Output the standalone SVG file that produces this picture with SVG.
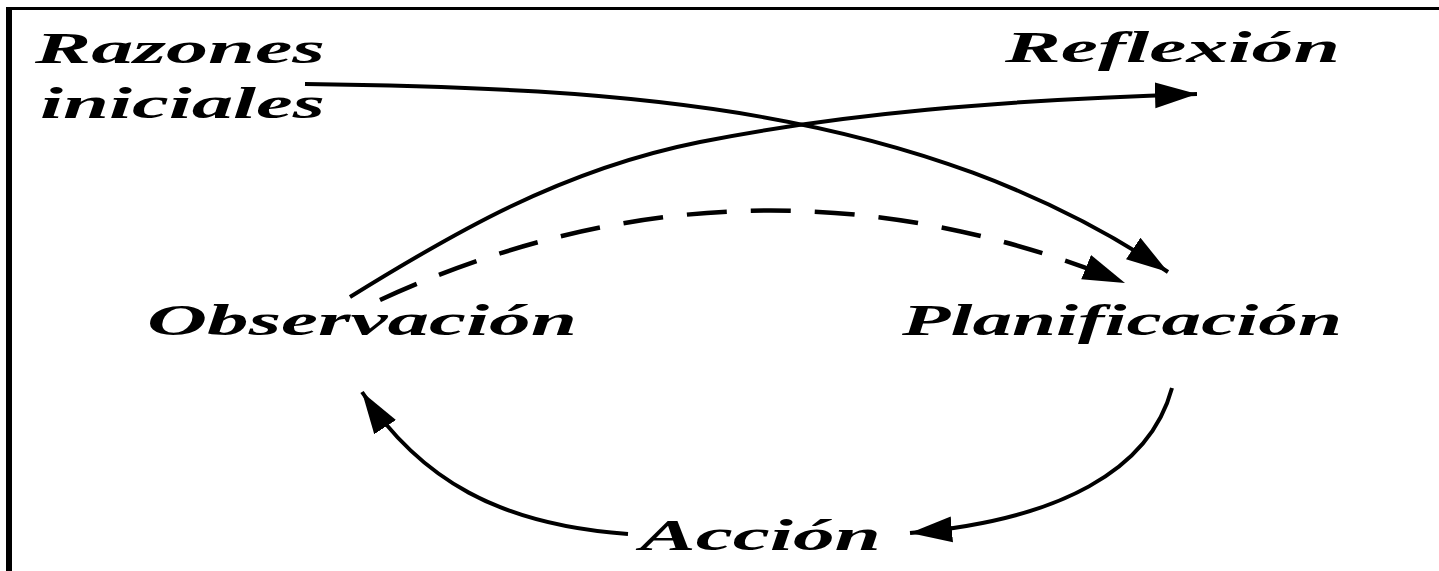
<svg xmlns="http://www.w3.org/2000/svg" width="1439" height="571" viewBox="0 0 1439 571">
<style>
.lbl{font-family:'Liberation Serif','DejaVu Serif',serif;font-weight:700;font-style:italic;font-size:44px;fill:#000}
.ln{fill:none;stroke:#000;stroke-width:4}
.dash{stroke-dasharray:40 24;stroke-width:4.5}
</style>
<defs>
<marker id="ah" markerUnits="userSpaceOnUse" markerWidth="42" markerHeight="28" refX="42" refY="14" orient="auto">
<path d="M0,1 L42,14 L0,27 z" fill="#000"/>
</marker>
</defs>
<rect width="1439" height="571" fill="#fff"/>
<g id="frame">
<line x1="6" y1="8.5" x2="1439" y2="8.5" stroke="#000" stroke-width="3"/>
<line x1="9" y1="7" x2="9" y2="571" stroke="#000" stroke-width="6"/>
</g>
<g id="razones"><text class="lbl" x="35" y="63" textLength="290" lengthAdjust="spacingAndGlyphs">Razones</text>
<text class="lbl" x="40" y="118" textLength="285" lengthAdjust="spacingAndGlyphs">iniciales</text></g>
<g id="reflexion"><text class="lbl" x="1005" y="62" textLength="335" lengthAdjust="spacingAndGlyphs">Reflexión</text></g>
<g id="observacion"><text class="lbl" x="147" y="335" textLength="430" lengthAdjust="spacingAndGlyphs">Observación</text></g>
<g id="planificacion"><text class="lbl" x="902" y="335" textLength="440" lengthAdjust="spacingAndGlyphs">Planificación</text></g>
<g id="accion"><text class="lbl" x="640" y="550" textLength="241" lengthAdjust="spacingAndGlyphs">Acción</text></g>
<g id="connectors">
<path class="ln" d="M305,84 C620,88 920,105 1168,272" marker-end="url(#ah)"/>
<path class="ln" d="M350,297 C450,235 560,170 700,142 S1000,100 1197,94" marker-end="url(#ah)"/>
<path class="ln dash" d="M380,300 Q750,130 1125,283" marker-end="url(#ah)"/>
<path class="ln" d="M1172,388 C1150,470 1060,520 910,533" marker-end="url(#ah)"/>
<path class="ln" d="M628,534 C500,525 420,480 362,392" marker-end="url(#ah)"/>
</g>
</svg>
